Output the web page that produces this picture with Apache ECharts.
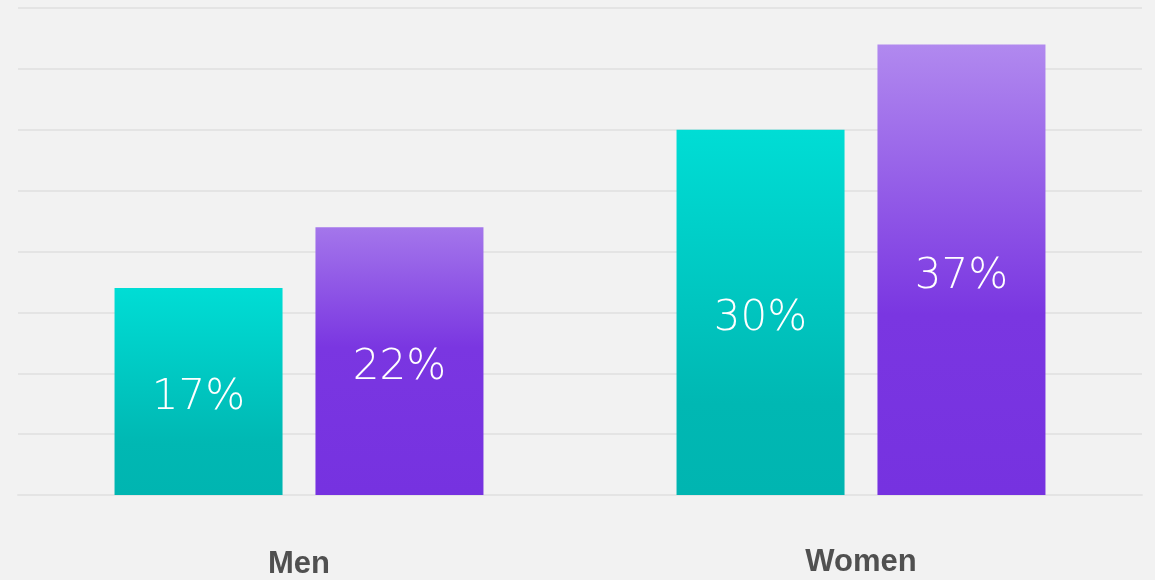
<!DOCTYPE html>
<html>
<head>
<meta charset="utf-8">
<script src="https://cdn.jsdelivr.net/npm/echarts@6/dist/echarts.min.js"></script>
<style>
html,body{margin:0;padding:0;background:#f2f2f2;overflow:hidden;}
#c{width:1155px;height:580px;}
</style>
</head>
<body>
<div id="c"></div>
<script>
var categories = ['Men', 'Women'];
var seriesA = [17, 30];
var seriesB = [22, 37];
var yMax = 40;
var yInterval = 5;

var chart = echarts.init(document.getElementById('c'));
var tealGrad = new echarts.graphic.LinearGradient(0, 0, 0, 1, [
  {offset: 0, color: '#00ddd5'},
  {offset: 0.75, color: '#00b8b3'},
  {offset: 1, color: '#00b5b1'}
]);
var purpleStyles = [
  {top: '#a476eb', stop: 0.45},
  {top: '#b189ef', stop: 0.6}
];
function purpleColor(p) {
  var s = purpleStyles[p.dataIndex];
  return new echarts.graphic.LinearGradient(0, 0, 0, 1, [
    {offset: 0, color: s.top},
    {offset: s.stop, color: '#7a36e1'},
    {offset: 1, color: '#7632e0'}
  ]);
}
var labelStyle = {
  show: true,
  position: 'inside',
  offset: [0, 7],
  color: '#ffffff',
  fontSize: 42,
  fontFamily: "'DejaVu Sans ExtraLight', 'DejaVu Sans'",
  fontWeight: 200,
  formatter: function (p) { return p.value + '%'; }
};
chart.setOption({
  backgroundColor: '#f2f2f2',
  animation: false,
  grid: {left: 18, right: 13, top: 8, bottom: 81},
  xAxis: {
    type: 'category',
    data: categories,
    axisLine: {show: true, lineStyle: {color: '#e4e4e4', width: 2}},
    axisTick: {show: false},
    axisLabel: {
      margin: 52,
      formatter: function (v) { return v === 'Men' ? '{m|' + v + '}' : '{w|' + v + '}'; },
      rich: {
        m: {fontSize: 31, fontWeight: 'bold', color: '#505050', fontFamily: 'Liberation Sans', padding: [2, 0, 0, 0]},
        w: {fontSize: 31, fontWeight: 'bold', color: '#505050', fontFamily: 'Liberation Sans'}
      }
    }
  },
  yAxis: {
    type: 'value',
    min: 0,
    max: yMax,
    interval: yInterval,
    axisLabel: {show: false},
    axisLine: {show: false},
    axisTick: {show: false},
    splitLine: {lineStyle: {color: '#e4e4e4', width: 2}}
  },
  series: [
    {type: 'bar', data: seriesA, barWidth: 168, barGap: '19.6%', itemStyle: {color: tealGrad}, label: labelStyle},
    {type: 'bar', data: seriesB, barWidth: 168, itemStyle: {color: purpleColor}, label: labelStyle}
  ]
});
</script>
</body>
</html>
